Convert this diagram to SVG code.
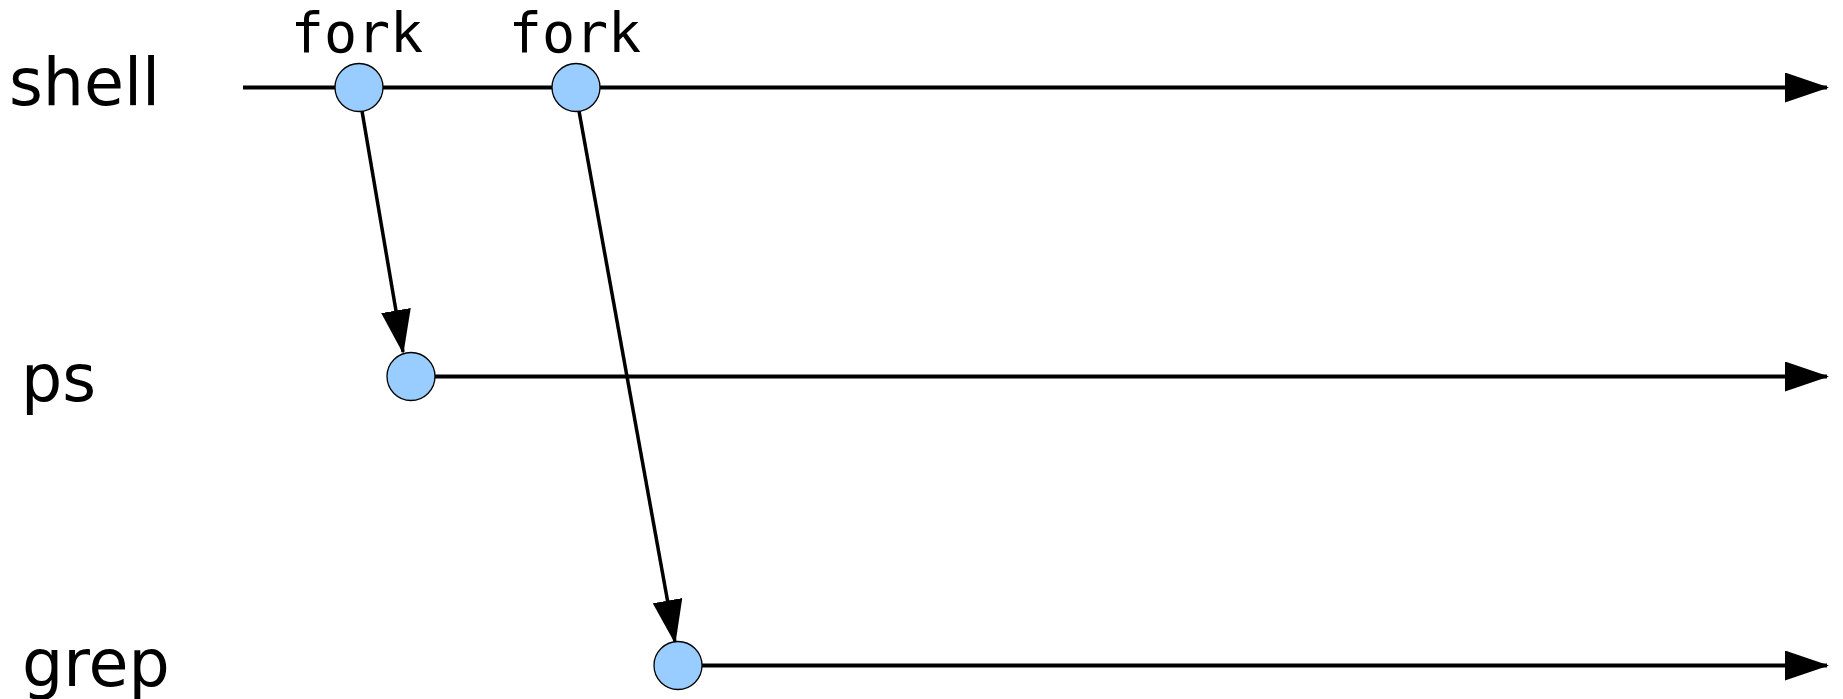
<svg xmlns="http://www.w3.org/2000/svg" width="1843" height="699" viewBox="0 0 1843 699">
  <style>
    .lbl { font-family: "DejaVu Sans", "Liberation Sans", sans-serif; font-size: 65px; fill: #000; }
    .fork { font-family: "DejaVu Sans Mono", "Liberation Mono", monospace; font-size: 55px; fill: #000; text-anchor: middle; }
    .line { stroke: #000; stroke-width: 4; fill: none; marker-end: url(#ah); }
    .diag { stroke: #000; stroke-width: 3.5; fill: none; marker-end: url(#ah); }
    .node { fill: #99ccff; stroke: #000; stroke-width: 1.3; }
  </style>
  <defs>
    <marker id="ah" markerUnits="userSpaceOnUse" markerWidth="44" markerHeight="30" refX="42" refY="15" orient="auto" viewBox="0 0 44 30">
      <path d="M0,0 L44,15 L0,30 z" fill="#000"/>
    </marker>
  </defs>
  <rect width="1843" height="699" fill="#fff"/>
  <g id="labels">
    <text class="lbl" x="9" y="105">shell</text>
    <text class="lbl" x="21" y="401">ps</text>
    <text class="lbl" x="22" y="686">grep</text>
  </g>
  <g id="connectors">
    <line class="line" x1="243" y1="87.5" x2="1827" y2="87.5"/>
    <line class="line" x1="435" y1="376.5" x2="1827" y2="376.5"/>
    <line class="line" x1="702" y1="665.5" x2="1827" y2="665.5"/>
    <line class="diag" x1="362" y1="111" x2="403" y2="352"/>
    <line class="diag" x1="579" y1="111" x2="675" y2="642"/>
  </g>
  <g id="fork1">
    <circle class="node" cx="359" cy="87.5" r="24"/>
    <text class="fork" x="357" y="52">fork</text>
  </g>
  <g id="fork2">
    <circle class="node" cx="576" cy="87.5" r="24"/>
    <text class="fork" x="575" y="52">fork</text>
  </g>
  <g id="ps-node">
    <circle class="node" cx="411" cy="376.5" r="24"/>
  </g>
  <g id="grep-node">
    <circle class="node" cx="678" cy="665.5" r="24"/>
  </g>
</svg>
